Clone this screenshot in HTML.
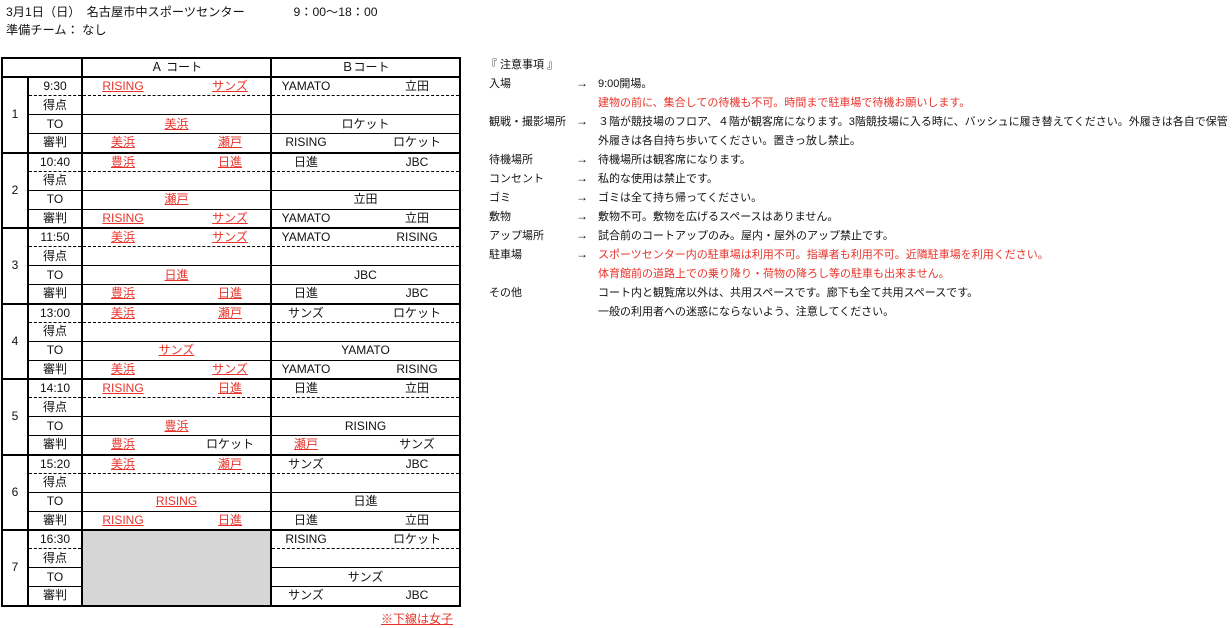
<!DOCTYPE html>
<html><head><meta charset="utf-8"><style>
*{margin:0;padding:0;box-sizing:border-box}
body{width:1232px;height:628px;background:#fff;position:relative;overflow:hidden;font-family:"Liberation Sans","Noto Sans CJK JP",sans-serif;color:#111}
.t{position:absolute;white-space:nowrap}
table{position:absolute;left:1px;top:57px;border-collapse:collapse;table-layout:fixed;width:458px;font-family:"Liberation Sans Narrow","Liberation Sans","Noto Sans CJK JP",sans-serif;font-size:12px}
td{height:19px;border:1px solid #000;padding:0;text-align:center;position:relative;line-height:17px;white-space:nowrap}
tr.s td,tr.hd td{height:18px}
td.n{border:2px solid #000;font-size:12px}
td.k{border-right:2px solid #000;border-left:2px solid #000}
td.a{border-right:2px solid #000}
td.b{border-right:2px solid #000}
tr.s td{border-top:2px solid #000}
tr.d td.k,tr.d td.a,tr.d td.b{border-bottom:1px dashed #000}
tr.d + tr td.k,tr.d + tr td.a,tr.d + tr td.b{border-top:1px dashed #000}
.l,.r{position:absolute;top:0;width:80px;text-align:center}
.l{left:0}.r{right:0}
.b .l{left:-6px}.b .r{right:2px}
u{color:#e8332a;text-decoration:underline}
.g{background:#d6d6d6}
.hd td{border-top:2px solid #000;font-family:"Liberation Sans","Noto Sans CJK JP",sans-serif;font-size:12px}
.red{color:#e8332a}
.nt{position:absolute;font-size:11px;white-space:nowrap;line-height:19px}
.ar{font-size:12px;margin-top:-1px}
</style></head><body>
<div class="t" style="left:6px;top:2px;font-size:12.2px">3月1日（日）　名古屋市中スポーツセンター　　　　9：00〜18：00</div>
<div class="t" style="left:6px;top:20px;font-size:12.2px">準備チーム：  なし</div>

<table>
<colgroup><col style="width:26px"><col style="width:54px"><col style="width:189px"><col style="width:189px"></colgroup>
<tr class="hd"><td colspan="2" style="border-left:2px solid #000;border-right:2px solid #000"></td><td class="a">Ａ コート</td><td class="b">Ｂコート</td></tr>

<tr class="s d"><td class="n" rowspan="4">1</td><td class="k">9:30</td><td class="a"><span class="l"><u>RISING </u></span><span class="r"><u>サンズ</u></span></td><td class="b"><span class="l">YAMATO</span><span class="r">立田</span></td></tr>
<tr><td class="k">得点</td><td class="a"></td><td class="b"></td></tr>
<tr><td class="k">TO</td><td class="a"><u>美浜</u></td><td class="b">ロケット</td></tr>
<tr><td class="k">審判</td><td class="a"><span class="l"><u>美浜</u></span><span class="r"><u>瀬戸</u></span></td><td class="b"><span class="l">RISING</span><span class="r">ロケット</span></td></tr>

<tr class="s d"><td class="n" rowspan="4">2</td><td class="k">10:40</td><td class="a"><span class="l"><u>豊浜</u></span><span class="r"><u>日進</u></span></td><td class="b"><span class="l">日進</span><span class="r">JBC</span></td></tr>
<tr><td class="k">得点</td><td class="a"></td><td class="b"></td></tr>
<tr><td class="k">TO</td><td class="a"><u>瀬戸</u></td><td class="b">立田</td></tr>
<tr><td class="k">審判</td><td class="a"><span class="l"><u>RISING </u></span><span class="r"><u>サンズ</u></span></td><td class="b"><span class="l">YAMATO</span><span class="r">立田</span></td></tr>

<tr class="s d"><td class="n" rowspan="4">3</td><td class="k">11:50</td><td class="a"><span class="l"><u>美浜</u></span><span class="r"><u>サンズ</u></span></td><td class="b"><span class="l">YAMATO</span><span class="r">RISING</span></td></tr>
<tr><td class="k">得点</td><td class="a"></td><td class="b"></td></tr>
<tr><td class="k">TO</td><td class="a"><u>日進</u></td><td class="b">JBC</td></tr>
<tr><td class="k">審判</td><td class="a"><span class="l"><u>豊浜</u></span><span class="r"><u>日進</u></span></td><td class="b"><span class="l">日進</span><span class="r">JBC</span></td></tr>

<tr class="s d"><td class="n" rowspan="4">4</td><td class="k">13:00</td><td class="a"><span class="l"><u>美浜</u></span><span class="r"><u>瀬戸</u></span></td><td class="b"><span class="l">サンズ</span><span class="r">ロケット</span></td></tr>
<tr><td class="k">得点</td><td class="a"></td><td class="b"></td></tr>
<tr><td class="k">TO</td><td class="a"><u>サンズ</u></td><td class="b">YAMATO</td></tr>
<tr><td class="k">審判</td><td class="a"><span class="l"><u>美浜</u></span><span class="r"><u>サンズ</u></span></td><td class="b"><span class="l">YAMATO</span><span class="r">RISING</span></td></tr>

<tr class="s d"><td class="n" rowspan="4">5</td><td class="k">14:10</td><td class="a"><span class="l"><u>RISING </u></span><span class="r"><u>日進</u></span></td><td class="b"><span class="l">日進</span><span class="r">立田</span></td></tr>
<tr><td class="k">得点</td><td class="a"></td><td class="b"></td></tr>
<tr><td class="k">TO</td><td class="a"><u>豊浜</u></td><td class="b">RISING</td></tr>
<tr><td class="k">審判</td><td class="a"><span class="l"><u>豊浜</u></span><span class="r">ロケット</span></td><td class="b"><span class="l"><u>瀬戸</u></span><span class="r">サンズ</span></td></tr>

<tr class="s d"><td class="n" rowspan="4">6</td><td class="k">15:20</td><td class="a"><span class="l"><u>美浜</u></span><span class="r"><u>瀬戸</u></span></td><td class="b"><span class="l">サンズ</span><span class="r">JBC</span></td></tr>
<tr><td class="k">得点</td><td class="a"></td><td class="b"></td></tr>
<tr><td class="k">TO</td><td class="a"><u>RISING </u></td><td class="b">日進</td></tr>
<tr><td class="k">審判</td><td class="a"><span class="l"><u>RISING </u></span><span class="r"><u>日進</u></span></td><td class="b"><span class="l">日進</span><span class="r">立田</span></td></tr>

<tr class="s d"><td class="n" rowspan="4">7</td><td class="k">16:30</td><td class="a g" rowspan="4" style="border-bottom:2px solid #000"></td><td class="b"><span class="l">RISING</span><span class="r">ロケット</span></td></tr>
<tr><td class="k">得点</td><td class="b"></td></tr>
<tr><td class="k">TO</td><td class="b">サンズ</td></tr>
<tr><td class="k" style="border-bottom:2px solid #000">審判</td><td class="b" style="border-bottom:2px solid #000"><span class="l">サンズ</span><span class="r">JBC</span></td></tr>
</table>
<div class="t" style="left:381px;top:610px;font-size:12px"><u>※下線は女子</u></div>

<div class="nt" style="left:486px;top:56px">『 注意事項 』</div>
<div class="nt" style="left:489px;top:75px">入場</div><div class="nt ar" style="left:576px;top:75px">→</div><div class="nt" style="left:598px;top:75px">9:00開場。</div>
<div class="nt red" style="left:598px;top:94px">建物の前に、集合しての待機も不可。時間まで駐車場で待機お願いします。</div>
<div class="nt" style="left:489px;top:113px">観戦・撮影場所</div><div class="nt ar" style="left:576px;top:113px">→</div><div class="nt" style="left:598px;top:113px">３階が競技場のフロア、４階が観客席になります。3階競技場に入る時に、バッシュに履き替えてください。外履きは各自で保管</div>
<div class="nt" style="left:598px;top:132px">外履きは各自持ち歩いてください。置きっ放し禁止。</div>
<div class="nt" style="left:489px;top:151px">待機場所</div><div class="nt ar" style="left:576px;top:151px">→</div><div class="nt" style="left:598px;top:151px">待機場所は観客席になります。</div>
<div class="nt" style="left:489px;top:170px">コンセント</div><div class="nt ar" style="left:576px;top:170px">→</div><div class="nt" style="left:598px;top:170px">私的な使用は禁止です。</div>
<div class="nt" style="left:489px;top:189px">ゴミ</div><div class="nt ar" style="left:576px;top:189px">→</div><div class="nt" style="left:598px;top:189px">ゴミは全て持ち帰ってください。</div>
<div class="nt" style="left:489px;top:208px">敷物</div><div class="nt ar" style="left:576px;top:208px">→</div><div class="nt" style="left:598px;top:208px">敷物不可。敷物を広げるスペースはありません。</div>
<div class="nt" style="left:489px;top:227px">アップ場所</div><div class="nt ar" style="left:576px;top:227px">→</div><div class="nt" style="left:598px;top:227px">試合前のコートアップのみ。屋内・屋外のアップ禁止です。</div>
<div class="nt" style="left:489px;top:246px">駐車場</div><div class="nt ar" style="left:576px;top:246px">→</div><div class="nt red" style="left:598px;top:246px">スポーツセンター内の駐車場は利用不可。指導者も利用不可。近隣駐車場を利用ください。</div>
<div class="nt red" style="left:598px;top:265px">体育館前の道路上での乗り降り・荷物の降ろし等の駐車も出来ません。</div>
<div class="nt" style="left:489px;top:284px">その他</div><div class="nt" style="left:598px;top:284px">コート内と観覧席以外は、共用スペースです。廊下も全て共用スペースです。</div>
<div class="nt" style="left:598px;top:303px">一般の利用者への迷惑にならないよう、注意してください。</div>
</body></html>
